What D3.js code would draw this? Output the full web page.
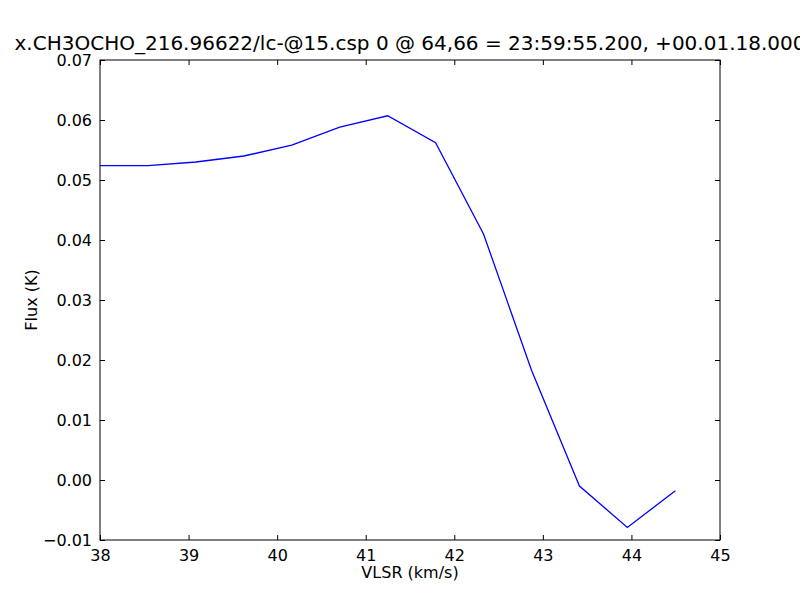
<!DOCTYPE html>
<html>
<head>
<meta charset="utf-8">
<script src="https://cdn.jsdelivr.net/npm/d3@7"></script>
<style>
  body { margin: 0; background: #fff; }
  svg { display: block; }
  text { font-family: "DejaVu Sans", sans-serif; }
</style>
</head>
<body>
<svg id="chart" width="800" height="600"></svg>
<script>
const titleText = "x.CH3OCHO_216.96622/lc-@15.csp 0 @ 64,66 = 23:59:55.200, +00.01.18.000";
const xLabel = "VLSR (km/s)";
const yLabel = "Flux (K)";
const velocity = [38.0, 38.541, 39.083, 39.624, 40.165, 40.707, 41.248, 41.789, 42.330, 42.872, 43.413, 43.954, 44.496];
const flux = [0.0524, 0.0524, 0.0530, 0.0540, 0.0558, 0.0588, 0.0607, 0.0562, 0.0410, 0.0183, -0.0010, -0.0079, -0.0018];
const xTicks = [38, 39, 40, 41, 42, 43, 44, 45];
const yTicks = [-0.01, 0.00, 0.01, 0.02, 0.03, 0.04, 0.05, 0.06, 0.07];

const svg = d3.select("#chart");
const m = { left: 100, top: 60, right: 720, bottom: 540 };
const x = d3.scaleLinear().domain([38, 45]).range([m.left, m.right]);
const y = d3.scaleLinear().domain([-0.01, 0.07]).range([m.bottom, m.top]);
const fmtY = v => d3.format(".2f")(v).replace("-", "\u2212");

const tickLen = 5;
const gB = svg.append("g").attr("transform", `translate(0,${m.bottom})`)
  .call(d3.axisBottom(x).tickValues(xTicks).tickFormat(d3.format("d")).tickSizeInner(-tickLen).tickSizeOuter(0).tickPadding(10));
const gT = svg.append("g").attr("transform", `translate(0,${m.top})`)
  .call(d3.axisTop(x).tickValues(xTicks).tickFormat("").tickSizeInner(-tickLen).tickSizeOuter(0));
const gL = svg.append("g").attr("transform", `translate(${m.left},0)`)
  .call(d3.axisLeft(y).tickValues(yTicks).tickFormat(fmtY).tickSizeInner(-tickLen).tickSizeOuter(0).tickPadding(8));
const gR = svg.append("g").attr("transform", `translate(${m.right},0)`)
  .call(d3.axisRight(y).tickValues(yTicks).tickFormat("").tickSizeInner(-tickLen).tickSizeOuter(0));

[gB, gT, gL, gR].forEach(g => {
  g.select(".domain").remove();
  g.selectAll(".tick line").attr("stroke", "#000").attr("stroke-width", 1);
  g.selectAll(".tick text").attr("fill", "#000").style("font-size", "16px").style("font-family", "DejaVu Sans, sans-serif");
});

const line = d3.line().x((d, i) => x(velocity[i])).y(d => y(d));
svg.append("path").datum(flux)
  .attr("d", line).attr("fill", "none").attr("stroke", "#0000ff").attr("stroke-width", 1.3);

svg.append("rect").attr("x", m.left).attr("y", m.top)
  .attr("width", m.right - m.left).attr("height", m.bottom - m.top)
  .attr("fill", "none").attr("stroke", "#000").attr("stroke-width", 1);

svg.append("text").attr("x", (m.left + m.right) / 2).attr("y", 50)
  .attr("text-anchor", "middle").style("font-size", "20px").text(titleText);
svg.append("text").attr("x", (m.left + m.right) / 2).attr("y", 578)
  .attr("text-anchor", "middle").style("font-size", "16px").text(xLabel);
svg.append("text").attr("transform", `translate(37,${(m.top + m.bottom) / 2}) rotate(-90)`)
  .attr("text-anchor", "middle").style("font-size", "16px").text(yLabel);
</script>
</body>
</html>
